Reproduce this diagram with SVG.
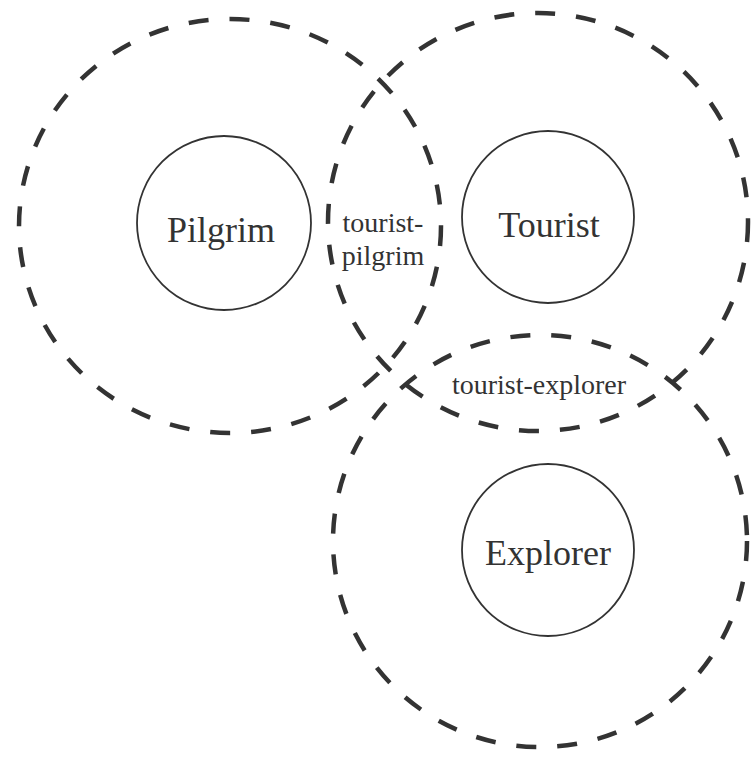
<svg xmlns="http://www.w3.org/2000/svg" width="751" height="763" viewBox="0 0 751 763">
<style>
.big{fill:none;stroke:#333;stroke-width:4.5;stroke-dasharray:20 21}
.node{fill:none;stroke:#333;stroke-width:1.8}
.lbl{font-family:"Liberation Serif","Times New Roman",serif;fill:#333;text-anchor:middle}
.main{font-size:36px}
.small{font-size:28px}
</style>
<rect width="751" height="763" fill="#fff"/>
<g id="regions">
<ellipse id="pilgrim-region" class="big" cx="230" cy="226" rx="211" ry="207"/>
<ellipse id="tourist-region" class="big" cx="538" cy="222" rx="210" ry="209"/>
<ellipse id="explorer-region" class="big" cx="540" cy="541" rx="207" ry="206"/>
</g>
<g id="pilgrim"><circle class="node" cx="224" cy="223" r="87"/><text class="lbl main" x="221" y="242">Pilgrim</text></g>
<g id="tourist"><circle class="node" cx="548" cy="217" r="86"/><text class="lbl main" x="549" y="237">Tourist</text></g>
<g id="explorer"><circle class="node" cx="548" cy="550" r="86"/><text class="lbl main" x="548" y="565">Explorer</text></g>
<g id="tourist-pilgrim"><text class="lbl small" x="383" y="232">tourist-</text><text class="lbl small" x="383" y="265">pilgrim</text></g>
<g id="tourist-explorer"><text class="lbl small" x="539" y="394">tourist-explorer</text></g>
<g id="connectors"></g>
</svg>
